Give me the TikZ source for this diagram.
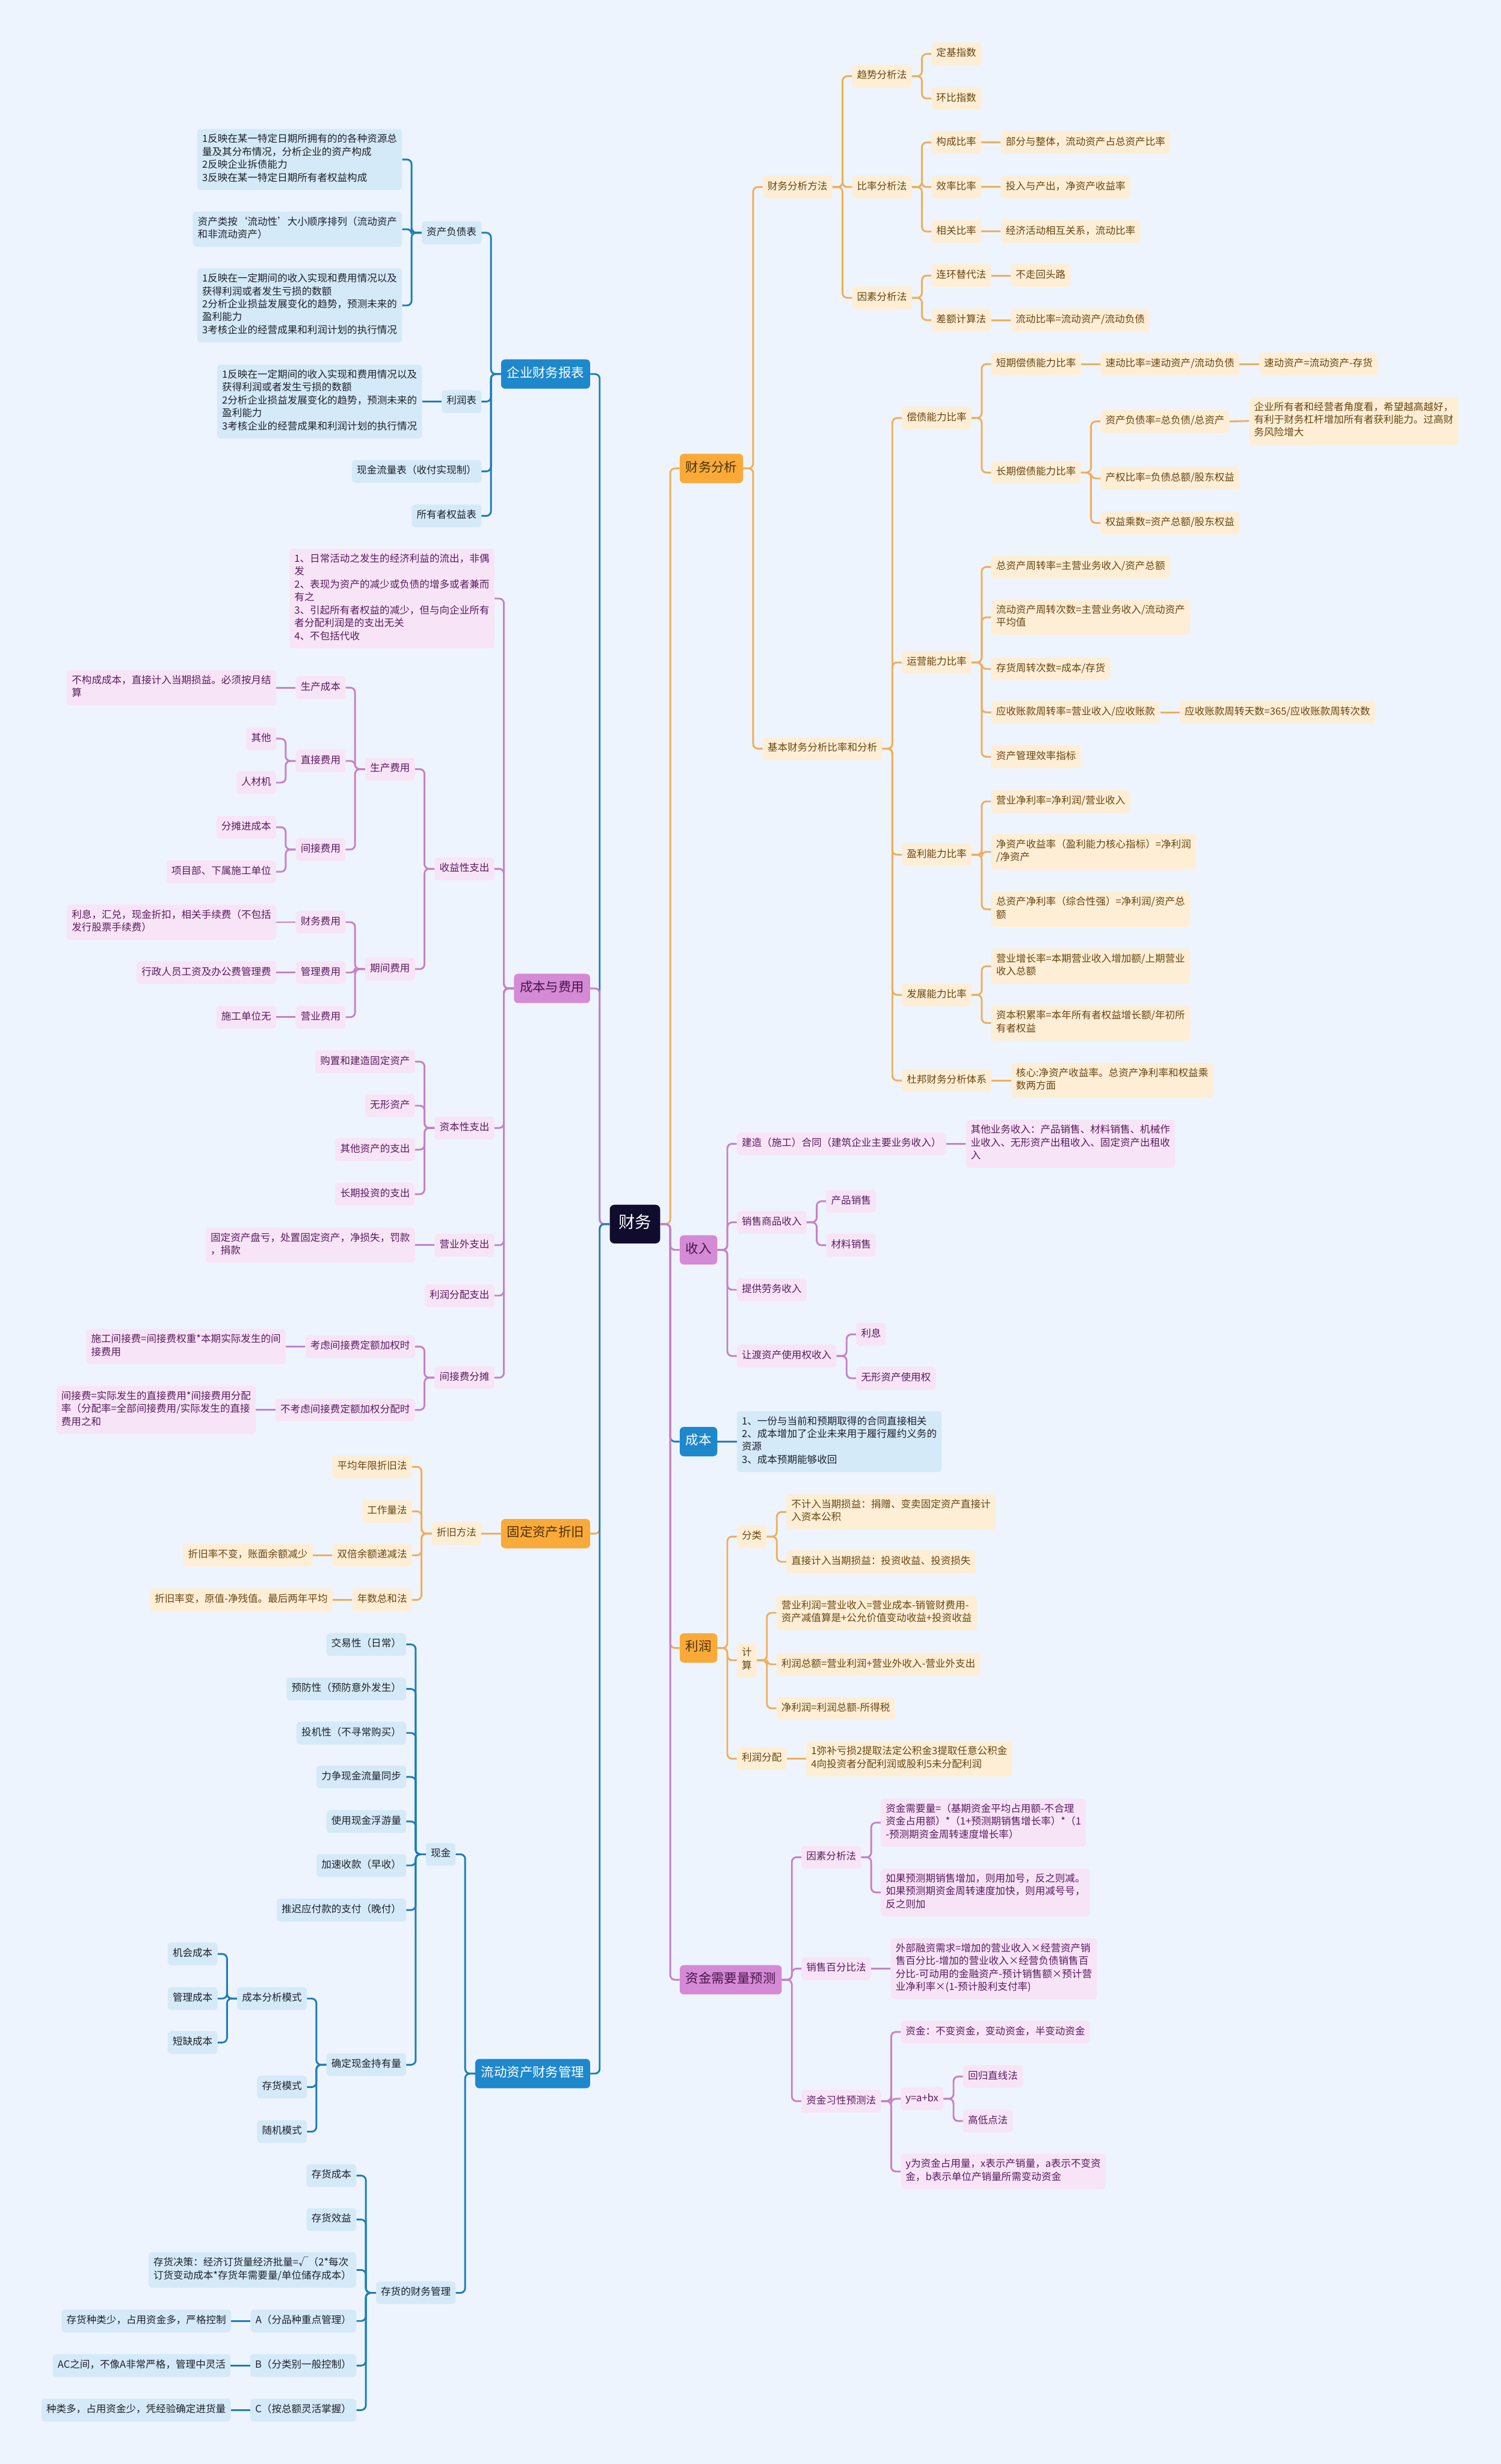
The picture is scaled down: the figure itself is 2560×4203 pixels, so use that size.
\documentclass[tikz,border=0pt]{standalone}
\usepackage{fontspec}
\setmainfont{Noto Sans CJK SC}

\definecolor{bgC}{RGB}{238,244,254}
\definecolor{rootC}{RGB}{16,12,46}
\definecolor{topB}{RGB}{30,136,204}
\definecolor{fillB}{RGB}{213,234,248}
\definecolor{lineB}{RGB}{28,126,186}
\definecolor{textB}{RGB}{30,32,44}
\definecolor{topP}{RGB}{213,138,214}
\definecolor{fillP}{RGB}{248,228,247}
\definecolor{lineP}{RGB}{198,128,200}
\definecolor{textP}{RGB}{88,28,94}
\definecolor{topO}{RGB}{250,170,56}
\definecolor{fillO}{RGB}{254,238,214}
\definecolor{lineO}{RGB}{240,174,88}
\definecolor{textO}{RGB}{104,70,16}

\begin{document}
\begin{tikzpicture}[
  x=1pt, y=-1pt,
  box/.style={rounded corners=6pt, align=left, inner xsep=8.5pt, inner ysep=8.5pt,
    font=\fontsize{17pt}{22pt}\selectfont,
    execute at begin node=\strut, execute at end node=\strut},
  leafB/.style={box, fill=fillB, text=textB},
  leafP/.style={box, fill=fillP, text=textP},
  leafO/.style={box, fill=fillO, text=textO},
  topic/.style={rounded corners=7pt, inner xsep=10pt, inner ysep=11pt,
    font=\fontsize{22pt}{28pt}\selectfont, execute at begin node=\strut},
  mainB/.style={topic, fill=topB, text=white},
  mainP/.style={topic, fill=topP, text=textP!80!black},
  mainO/.style={topic, fill=topO, text=textO!70!black},
  rootbox/.style={rounded corners=8pt, fill=rootC, text=white, inner xsep=15pt,
    inner ysep=16pt, font=\fontsize{28pt}{34pt}\selectfont, execute at begin node=\strut},
  lnB/.style={draw=lineB, line width=3pt, rounded corners=8pt},
  lnP/.style={draw=lineP, line width=3pt, rounded corners=8pt},
  lnO/.style={draw=lineO, line width=3pt, rounded corners=8pt},
  lt/.style={anchor=east, xshift=-33pt},
  rt/.style={anchor=west, xshift=33pt},
]

% --- canvas ---
\fill[bgC] (0,0) rectangle (2560,4203);
\useasboundingbox (0,0) rectangle (2560,4203);

% --- root ---
\node[rootbox] (cw) at (1083,2088) {财务};

% --- main topics (left) ---
\node[mainB, lt] (bb)   at (cw.west |- 0,638)  {企业财务报表};
\node[mainP, lt] (cbfy) at (cw.west |- 0,1686) {成本与费用};
\node[mainO, lt] (zj)   at (cw.west |- 0,2616) {固定资产折旧};
\node[mainB, lt] (ld)   at (cw.west |- 0,3537) {流动资产财务管理};

% --- main topics (right) ---
\node[mainO, rt] (fx)   at (cw.east |- 0,799)  {财务分析};
\node[mainP, rt] (sr)   at (cw.east |- 0,2132) {收入};
\node[mainB, rt] (cb)   at (cw.east |- 0,2459) {成本};
\node[mainO, rt] (lr)   at (cw.east |- 0,2811) {利润};
\node[mainP, rt] (zjxq) at (cw.east |- 0,3377) {资金需要量预测};

\draw[lnB] (cw.west) -- ++(-17,0) |- (bb.east);
\draw[lnP] (cw.west) -- ++(-17,0) |- (cbfy.east);
\draw[lnO] (cw.west) -- ++(-17,0) |- (zj.east);
\draw[lnB] (cw.west) -- ++(-17,0) |- (ld.east);
\draw[lnO] (cw.east) -- ++(17,0) |- (fx.west);
\draw[lnP] (cw.east) -- ++(17,0) |- (sr.west);
\draw[lnB] (cw.east) -- ++(17,0) |- (cb.west);
\draw[lnO] (cw.east) -- ++(17,0) |- (lr.west);
\draw[lnP] (cw.east) -- ++(17,0) |- (zjxq.west);

% --- 企业财务报表 ---
\node[leafB, lt] (zcfzb) at (bb.west |- 0,397) {资产负债表};
\node[leafB, lt] (lrb)   at (bb.west |- 0,685) {利润表};
\node[leafB, lt] (xjllb) at (bb.west |- 0,804) {现金流量表（收付实现制）};
\node[leafB, lt] (syzqy) at (bb.west |- 0,880) {所有者权益表};
\node[leafB, lt] (zc1) at (zcfzb.west |- 0,272)
  {1反映在某一特定日期所拥有的的各种资源总\\量及其分布情况，分析企业的资产构成\\2反映企业拆债能力\\3反映在某一特定日期所有者权益构成};
\node[leafB, lt] (zc2) at (zcfzb.west |- 0,391)
  {资产类按‘流动性’大小顺序排列（流动资产\\和非流动资产）};
\node[leafB, lt] (zc3) at (zcfzb.west |- 0,521)
  {1反映在一定期间的收入实现和费用情况以及\\获得利润或者发生亏损的数额\\2分析企业损益发展变化的趋势，预测未来的\\盈利能力\\3考核企业的经营成果和利润计划的执行情况};
\node[leafB, lt] (lrb1) at (lrb.west |- 0,685)
  {1反映在一定期间的收入实现和费用情况以及\\获得利润或者发生亏损的数额\\2分析企业损益发展变化的趋势，预测未来的\\盈利能力\\3考核企业的经营成果和利润计划的执行情况};

\foreach \c in {zcfzb,lrb,xjllb,syzqy} \draw[lnB] (bb.west) -- ++(-17,0) |- (\c.east);
\foreach \c in {zc1,zc2,zc3} \draw[lnB] (zcfzb.west) -- ++(-17,0) |- (\c.east);
\draw[lnB] (lrb.west) -- (lrb1.east);

% --- 成本与费用 ---
\node[leafP, lt] (cf1) at (cbfy.west |- 0,1021)
  {1、日常活动之发生的经济利益的流出，非偶\\发\\2、表现为资产的减少或负债的增多或者兼而\\有之\\3、引起所有者权益的减少，但与向企业所有\\者分配利润是的支出无关\\4、不包括代收};
\node[leafP, lt] (sysz) at (cbfy.west |- 0,1482) {收益性支出};
\node[leafP, lt] (zbsz) at (cbfy.west |- 0,1924) {资本性支出};
\node[leafP, lt] (yywz) at (cbfy.west |- 0,2124) {营业外支出};
\node[leafP, lt] (lrzc) at (cbfy.west |- 0,2210) {利润分配支出};
\node[leafP, lt] (jjft) at (cbfy.west |- 0,2350) {间接费分摊};

\node[leafP, lt] (scfy) at (sysz.west |- 0,1312) {生产费用};
\node[leafP, lt] (qjfy) at (sysz.west |- 0,1653) {期间费用};
\node[leafP, lt] (sccb) at (scfy.west |- 0,1173) {生产成本};
\node[leafP, lt] (zjfy) at (scfy.west |- 0,1298) {直接费用};
\node[leafP, lt] (jjfy) at (scfy.west |- 0,1449) {间接费用};
\node[leafP, lt] (sccb1) at (sccb.west |- 0,1173) {不构成成本，直接计入当期损益。必须按月结\\算};
\node[leafP, lt] (qt)   at (zjfy.west |- 0,1260) {其他};
\node[leafP, lt] (rcj)  at (zjfy.west |- 0,1335) {人材机};
\node[leafP, lt] (ftcb) at (jjfy.west |- 0,1411) {分摊进成本};
\node[leafP, lt] (xmb)  at (jjfy.west |- 0,1487) {项目部、下属施工单位};
\node[leafP, lt] (cwfy) at (qjfy.west |- 0,1573) {财务费用};
\node[leafP, lt] (glfy) at (qjfy.west |- 0,1659) {管理费用};
\node[leafP, lt] (yyfy) at (qjfy.west |- 0,1735) {营业费用};
\node[leafP, lt] (cwfy1) at (cwfy.west |- 0,1573) {利息，汇兑，现金折扣，相关手续费（不包括\\发行股票手续费）};
\node[leafP, lt] (glfy1) at (glfy.west |- 0,1659) {行政人员工资及办公费管理费};
\node[leafP, lt] (yyfy1) at (yyfy.west |- 0,1735) {施工单位无};

\node[leafP, lt] (gz)   at (zbsz.west |- 0,1811) {购置和建造固定资产};
\node[leafP, lt] (wx)   at (zbsz.west |- 0,1886) {无形资产};
\node[leafP, lt] (qtzc) at (zbsz.west |- 0,1961) {其他资产的支出};
\node[leafP, lt] (cqtz) at (zbsz.west |- 0,2037) {长期投资的支出};
\node[leafP, lt] (yywz1) at (yywz.west |- 0,2124) {固定资产盘亏，处置固定资产，净损失，罚款\\，捐款};
\node[leafP, lt] (kl)  at (jjft.west |- 0,2297) {考虑间接费定额加权时};
\node[leafP, lt] (bkl) at (jjft.west |- 0,2405) {不考虑间接费定额加权分配时};
\node[leafP, lt] (kl1) at (kl.west |- 0,2297) {施工间接费=间接费权重*本期实际发生的间\\接费用};
\node[leafP, lt] (bkl1) at (bkl.west |- 0,2405)
  {间接费=实际发生的直接费用*间接费用分配\\率（分配率=全部间接费用/实际发生的直接\\费用之和};

\foreach \c in {cf1,sysz,zbsz,yywz,lrzc,jjft} \draw[lnP] (cbfy.west) -- ++(-17,0) |- (\c.east);
\foreach \c in {scfy,qjfy} \draw[lnP] (sysz.west) -- ++(-17,0) |- (\c.east);
\foreach \c in {sccb,zjfy,jjfy} \draw[lnP] (scfy.west) -- ++(-17,0) |- (\c.east);
\foreach \c in {qt,rcj} \draw[lnP] (zjfy.west) -- ++(-17,0) |- (\c.east);
\foreach \c in {ftcb,xmb} \draw[lnP] (jjfy.west) -- ++(-17,0) |- (\c.east);
\foreach \c in {cwfy,glfy,yyfy} \draw[lnP] (qjfy.west) -- ++(-17,0) |- (\c.east);
\foreach \c in {gz,wx,qtzc,cqtz} \draw[lnP] (zbsz.west) -- ++(-17,0) |- (\c.east);
\foreach \c in {kl,bkl} \draw[lnP] (jjft.west) -- ++(-17,0) |- (\c.east);
\draw[lnP] (sccb.west) -- (sccb1.east);
\draw[lnP] (cwfy.west) -- (cwfy1.east);
\draw[lnP] (glfy.west) -- (glfy1.east);
\draw[lnP] (yyfy.west) -- (yyfy1.east);
\draw[lnP] (yywz.west) -- (yywz1.east);
\draw[lnP] (kl.west) -- (kl1.east);
\draw[lnP] (bkl.west) -- (bkl1.east);

% --- 固定资产折旧 ---
\node[leafO, lt] (zjff) at (zj.west |- 0,2616) {折旧方法};
\node[leafO, lt] (pj)  at (zjff.west |- 0,2502) {平均年限折旧法};
\node[leafO, lt] (gzl) at (zjff.west |- 0,2578) {工作量法};
\node[leafO, lt] (sb)  at (zjff.west |- 0,2653) {双倍余额递减法};
\node[leafO, lt] (ns)  at (zjff.west |- 0,2729) {年数总和法};
\node[leafO, lt] (sb1) at (sb.west |- 0,2653) {折旧率不变，账面余额减少};
\node[leafO, lt] (ns1) at (ns.west |- 0,2729) {折旧率变，原值-净残值。最后两年平均};

\draw[lnO] (zj.west) -- (zjff.east);
\foreach \c in {pj,gzl,sb,ns} \draw[lnO] (zjff.west) -- ++(-17,0) |- (\c.east);
\draw[lnO] (sb.west) -- (sb1.east);
\draw[lnO] (ns.west) -- (ns1.east);

% --- 流动资产财务管理 ---
\node[leafB, lt] (xj)   at (ld.west |- 0,3163) {现金};
\node[leafB, lt] (chgl) at (ld.west |- 0,3911) {存货的财务管理};
\node[leafB, lt] (jy) at (xj.west |- 0,2805) {交易性（日常）};
\node[leafB, lt] (yf) at (xj.west |- 0,2881) {预防性（预防意外发生）};
\node[leafB, lt] (tj) at (xj.west |- 0,2956) {投机性（不寻常购买）};
\node[leafB, lt] (tb) at (xj.west |- 0,3031) {力争现金流量同步};
\node[leafB, lt] (fy) at (xj.west |- 0,3107) {使用现金浮游量};
\node[leafB, lt] (js) at (xj.west |- 0,3182) {加速收款（早收）};
\node[leafB, lt] (tc) at (xj.west |- 0,3258) {推迟应付款的支付（晚付）};
\node[leafB, lt] (qd) at (xj.west |- 0,3522) {确定现金持有量};
\node[leafB, lt] (cbfx) at (qd.west |- 0,3409) {成本分析模式};
\node[leafB, lt] (chms) at (qd.west |- 0,3560) {存货模式};
\node[leafB, lt] (sjms) at (qd.west |- 0,3636) {随机模式};
\node[leafB, lt] (jhcb) at (cbfx.west |- 0,3333) {机会成本};
\node[leafB, lt] (glcb) at (cbfx.west |- 0,3409) {管理成本};
\node[leafB, lt] (dqcb) at (cbfx.west |- 0,3484) {短缺成本};
\node[leafB, lt] (chcb) at (chgl.west |- 0,3711) {存货成本};
\node[leafB, lt] (chxy) at (chgl.west |- 0,3786) {存货效益};
\node[leafB, lt] (chjc) at (chgl.west |- 0,3872)
  {存货决策：经济订货量经济批量=√（2*每次\\订货变动成本*存货年需要量/单位储存成本）};
\node[leafB, lt] (ca)  at (chgl.west |- 0,3959) {A（分品种重点管理）};
\node[leafB, lt] (cbb) at (chgl.west |- 0,4035) {B（分类别一般控制）};
\node[leafB, lt] (cc)  at (chgl.west |- 0,4111) {C（按总额灵活掌握）};
\node[leafB, lt] (ca1)  at (ca.west |- 0,3959)  {存货种类少，占用资金多，严格控制};
\node[leafB, lt] (cbb1) at (cbb.west |- 0,4035) {AC之间，不像A非常严格，管理中灵活};
\node[leafB, lt] (cc1)  at (cc.west |- 0,4111)  {种类多，占用资金少，凭经验确定进货量};

\foreach \c in {xj,chgl} \draw[lnB] (ld.west) -- ++(-17,0) |- (\c.east);
\foreach \c in {jy,yf,tj,tb,fy,js,tc,qd} \draw[lnB] (xj.west) -- ++(-17,0) |- (\c.east);
\foreach \c in {cbfx,chms,sjms} \draw[lnB] (qd.west) -- ++(-17,0) |- (\c.east);
\foreach \c in {jhcb,glcb,dqcb} \draw[lnB] (cbfx.west) -- ++(-17,0) |- (\c.east);
\foreach \c in {chcb,chxy,chjc,ca,cbb,cc} \draw[lnB] (chgl.west) -- ++(-17,0) |- (\c.east);
\draw[lnB] (ca.west) -- (ca1.east);
\draw[lnB] (cbb.west) -- (cbb1.east);
\draw[lnB] (cc.west) -- (cc1.east);

% --- 财务分析 ---
\node[leafO, rt] (fxff) at (fx.east |- 0,319)  {财务分析方法};
\node[leafO, rt] (jbfx) at (fx.east |- 0,1277) {基本财务分析比率和分析};
\node[leafO, rt] (qs) at (fxff.east |- 0,130) {趋势分析法};
\node[leafO, rt] (bl) at (fxff.east |- 0,319) {比率分析法};
\node[leafO, rt] (ys) at (fxff.east |- 0,508) {因素分析法};
\node[leafO, rt] (djzs) at (qs.east |- 0,92)  {定基指数};
\node[leafO, rt] (hbzs) at (qs.east |- 0,168) {环比指数};
\node[leafO, rt] (gcbl) at (bl.east |- 0,243) {构成比率};
\node[leafO, rt] (xlbl) at (bl.east |- 0,319) {效率比率};
\node[leafO, rt] (xgbl) at (bl.east |- 0,395) {相关比率};
\node[leafO, rt] (gcbl1) at (gcbl.east |- 0,243) {部分与整体，流动资产占总资产比率};
\node[leafO, rt] (xlbl1) at (xlbl.east |- 0,319) {投入与产出，净资产收益率};
\node[leafO, rt] (xgbl1) at (xgbl.east |- 0,395) {经济活动相互关系，流动比率};
\node[leafO, rt] (lh) at (ys.east |- 0,470) {连环替代法};
\node[leafO, rt] (ce) at (ys.east |- 0,546) {差额计算法};
\node[leafO, rt] (lh1) at (lh.east |- 0,470) {不走回头路};
\node[leafO, rt] (ce1) at (ce.east |- 0,546) {流动比率=流动资产/流动负债};

\node[leafO, rt] (cz) at (jbfx.east |- 0,713)  {偿债能力比率};
\node[leafO, rt] (yy) at (jbfx.east |- 0,1130) {运营能力比率};
\node[leafO, rt] (yl) at (jbfx.east |- 0,1458) {盈利能力比率};
\node[leafO, rt] (fz) at (jbfx.east |- 0,1697) {发展能力比率};
\node[leafO, rt] (db) at (jbfx.east |- 0,1843) {杜邦财务分析体系};
\node[leafO, rt] (dq) at (cz.east |- 0,621) {短期偿债能力比率};
\node[leafO, rt] (cq) at (cz.east |- 0,806) {长期偿债能力比率};
\node[leafO, rt] (sd)  at (dq.east |- 0,621) {速动比率=速动资产/流动负债};
\node[leafO, rt] (sd2) at (sd.east |- 0,621) {速动资产=流动资产-存货};
\node[leafO, rt] (zcfzl) at (cq.east |- 0,719) {资产负债率=总负债/总资产};
\node[leafO, rt] (cqbl)  at (cq.east |- 0,816) {产权比率=负债总额/股东权益};
\node[leafO, rt] (qycs)  at (cq.east |- 0,892) {权益乘数=资产总额/股东权益};
\node[leafO, rt] (zcfzl1) at (zcfzl.east |- 0,718)
  {企业所有者和经营者角度看，希望越高越好，\\有利于财务杠杆增加所有者获利能力。过高财\\务风险增大};
\node[leafO, rt] (yy1) at (yy.east |- 0,967)  {总资产周转率=主营业务收入/资产总额};
\node[leafO, rt] (yy2) at (yy.east |- 0,1053) {流动资产周转次数=主营业务收入/流动资产\\平均值};
\node[leafO, rt] (yy3) at (yy.east |- 0,1141) {存货周转次数=成本/存货};
\node[leafO, rt] (yy4) at (yy.east |- 0,1215) {应收账款周转率=营业收入/应收账款};
\node[leafO, rt] (yy5) at (yy.east |- 0,1291) {资产管理效率指标};
\node[leafO, rt] (yy4a) at (yy4.east |- 0,1215) {应收账款周转天数=365/应收账款周转次数};
\node[leafO, rt] (yl1) at (yl.east |- 0,1367) {营业净利率=净利润/营业收入};
\node[leafO, rt] (yl2) at (yl.east |- 0,1453) {净资产收益率（盈利能力核心指标）=净利润\\/净资产};
\node[leafO, rt] (yl3) at (yl.east |- 0,1551) {总资产净利率（综合性强）=净利润/资产总\\额};
\node[leafO, rt] (fz1) at (fz.east |- 0,1648) {营业增长率=本期营业收入增加额/上期营业\\收入总额};
\node[leafO, rt] (fz2) at (fz.east |- 0,1745) {资本积累率=本年所有者权益增长额/年初所\\有者权益};
\node[leafO, rt] (db1) at (db.east |- 0,1843) {核心:净资产收益率。总资产净利率和权益乘\\数两方面};

\foreach \c in {fxff,jbfx} \draw[lnO] (fx.east) -- ++(17,0) |- (\c.west);
\foreach \c in {qs,bl,ys} \draw[lnO] (fxff.east) -- ++(17,0) |- (\c.west);
\foreach \c in {djzs,hbzs} \draw[lnO] (qs.east) -- ++(17,0) |- (\c.west);
\foreach \c in {gcbl,xlbl,xgbl} \draw[lnO] (bl.east) -- ++(17,0) |- (\c.west);
\foreach \c in {lh,ce} \draw[lnO] (ys.east) -- ++(17,0) |- (\c.west);
\foreach \c in {cz,yy,yl,fz,db} \draw[lnO] (jbfx.east) -- ++(17,0) |- (\c.west);
\foreach \c in {dq,cq} \draw[lnO] (cz.east) -- ++(17,0) |- (\c.west);
\foreach \c in {zcfzl,cqbl,qycs} \draw[lnO] (cq.east) -- ++(17,0) |- (\c.west);
\foreach \c in {yy1,yy2,yy3,yy4,yy5} \draw[lnO] (yy.east) -- ++(17,0) |- (\c.west);
\foreach \c in {yl1,yl2,yl3} \draw[lnO] (yl.east) -- ++(17,0) |- (\c.west);
\foreach \c in {fz1,fz2} \draw[lnO] (fz.east) -- ++(17,0) |- (\c.west);
\draw[lnO] (gcbl.east) -- (gcbl1.west);
\draw[lnO] (xlbl.east) -- (xlbl1.west);
\draw[lnO] (xgbl.east) -- (xgbl1.west);
\draw[lnO] (lh.east) -- (lh1.west);
\draw[lnO] (ce.east) -- (ce1.west);
\draw[lnO] (dq.east) -- (sd.west);
\draw[lnO] (sd.east) -- (sd2.west);
\draw[lnO] (zcfzl.east) -- (zcfzl1.west);
\draw[lnO] (yy4.east) -- (yy4a.west);
\draw[lnO] (db.east) -- (db1.west);

% --- 收入 ---
\node[leafP, rt] (jz) at (sr.east |- 0,1951) {建造（施工）合同（建筑企业主要业务收入）};
\node[leafP, rt] (xs) at (sr.east |- 0,2085) {销售商品收入};
\node[leafP, rt] (lw) at (sr.east |- 0,2200) {提供劳务收入};
\node[leafP, rt] (rd) at (sr.east |- 0,2313) {让渡资产使用权收入};
\node[leafP, rt] (jz1) at (jz.east |- 0,1951)
  {其他业务收入：产品销售、材料销售、机械作\\业收入、无形资产出租收入、固定资产出租收\\入};
\node[leafP, rt] (cpxs) at (xs.east |- 0,2049) {产品销售};
\node[leafP, rt] (clxs) at (xs.east |- 0,2124) {材料销售};
\node[leafP, rt] (lx)   at (rd.east |- 0,2276) {利息};
\node[leafP, rt] (wxsy) at (rd.east |- 0,2351) {无形资产使用权};

\foreach \c in {jz,xs,lw,rd} \draw[lnP] (sr.east) -- ++(17,0) |- (\c.west);
\foreach \c in {cpxs,clxs} \draw[lnP] (xs.east) -- ++(17,0) |- (\c.west);
\foreach \c in {lx,wxsy} \draw[lnP] (rd.east) -- ++(17,0) |- (\c.west);
\draw[lnP] (jz.east) -- (jz1.west);

% --- 成本 ---
\node[leafB, rt] (cb1) at (cb.east |- 0,2459)
  {1、一份与当前和预期取得的合同直接相关\\2、成本增加了企业未来用于履行履约义务的\\资源\\3、成本预期能够收回};
\draw[lnB] (cb.east) -- (cb1.west);

% --- 利润 ---
\node[leafO, rt] (fl)   at (lr.east |- 0,2621) {分类};
\node[leafO, rt] (jsu)  at (lr.east |- 0,2832) {计\\算};
\node[leafO, rt] (lrfp) at (lr.east |- 0,3000) {利润分配};
\node[leafO, rt] (fl1) at (fl.east |- 0,2579) {不计入当期损益：捐赠、变卖固定资产直接计\\入资本公积};
\node[leafO, rt] (fl2) at (fl.east |- 0,2664) {直接计入当期损益：投资收益、投资损失};
\node[leafO, rt] (jsa) at (jsu.east |- 0,2751) {营业利润=营业收入=营业成本-销管财费用-\\资产减值算是+公允价值变动收益+投资收益};
\node[leafO, rt] (jsb) at (jsu.east |- 0,2839) {利润总额=营业利润+营业外收入-营业外支出};
\node[leafO, rt] (jsc) at (jsu.east |- 0,2914) {净利润=利润总额-所得税};
\node[leafO, rt] (lrfp1) at (lrfp.east |- 0,3000) {1弥补亏损2提取法定公积金3提取任意公积金\\4向投资者分配利润或股利5未分配利润};

\foreach \c in {fl,jsu,lrfp} \draw[lnO] (lr.east) -- ++(17,0) |- (\c.west);
\foreach \c in {fl1,fl2} \draw[lnO] (fl.east) -- ++(17,0) |- (\c.west);
\foreach \c in {jsa,jsb,jsc} \draw[lnO] (jsu.east) -- ++(17,0) |- (\c.west);
\draw[lnO] (lrfp.east) -- (lrfp1.west);

% --- 资金需要量预测 ---
\node[leafP, rt] (ysfx) at (zjxq.east |- 0,3168) {因素分析法};
\node[leafP, rt] (xsbf) at (zjxq.east |- 0,3358) {销售百分比法};
\node[leafP, rt] (zjxx) at (zjxq.east |- 0,3584) {资金习性预测法};
\node[leafP, rt] (ysa) at (ysfx.east |- 0,3109)
  {资金需要量=（基期资金平均占用额-不合理\\资金占用额）*（1+预测期销售增长率）*（1\\-预测期资金周转速度增长率）};
\node[leafP, rt] (ysb) at (ysfx.east |- 0,3228)
  {如果预测期销售增加，则用加号，反之则减。\\如果预测期资金周转速度加快，则用减号号，\\反之则加};
\node[leafP, rt] (xsbf1) at (xsbf.east |- 0,3358)
  {外部融资需求=增加的营业收入×经营资产销\\售百分比-增加的营业收入×经营负债销售百\\分比-可动用的金融资产-预计销售额×预计营\\业净利率×(1-预计股利支付率)};
\node[leafP, rt] (zja) at (zjxx.east |- 0,3466) {资金：不变资金，变动资金，半变动资金};
\node[leafP, rt] (yab) at (zjxx.east |- 0,3580) {y=a+bx};
\node[leafP, rt] (zjb) at (zjxx.east |- 0,3704)
  {y为资金占用量，x表示产销量，a表示不变资\\金，b表示单位产销量所需变动资金};
\node[leafP, rt] (hg) at (yab.east |- 0,3542) {回归直线法};
\node[leafP, rt] (gd) at (yab.east |- 0,3618) {高低点法};

\foreach \c in {ysfx,xsbf,zjxx} \draw[lnP] (zjxq.east) -- ++(17,0) |- (\c.west);
\foreach \c in {ysa,ysb} \draw[lnP] (ysfx.east) -- ++(17,0) |- (\c.west);
\foreach \c in {zja,yab,zjb} \draw[lnP] (zjxx.east) -- ++(17,0) |- (\c.west);
\foreach \c in {hg,gd} \draw[lnP] (yab.east) -- ++(17,0) |- (\c.west);
\draw[lnP] (xsbf.east) -- (xsbf1.west);

\end{tikzpicture}
\end{document}
